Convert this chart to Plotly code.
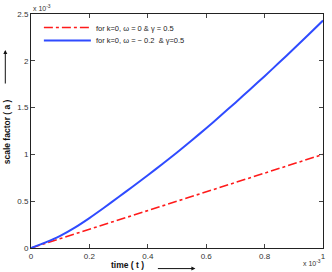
import plotly.graph_objects as go

t = [0.0, 0.05, 0.1, 0.15, 0.2, 0.25, 0.3, 0.35, 0.4, 0.45, 0.5,
     0.55, 0.6, 0.65, 0.7, 0.75, 0.8, 0.85, 0.9, 0.95, 1.0]
a_red = [0.0, 0.05, 0.1, 0.15, 0.2, 0.25, 0.3, 0.35, 0.4, 0.45, 0.5,
         0.55, 0.6, 0.65, 0.7, 0.75, 0.8, 0.85, 0.9, 0.95, 1.0]
a_blue = [0.0, 0.06, 0.13, 0.218, 0.32, 0.43, 0.545, 0.66, 0.777, 0.897, 1.02,
          1.148, 1.28, 1.415, 1.553, 1.693, 1.836, 1.981, 2.128, 2.278, 2.43]
xticks = [0, 0.2, 0.4, 0.6, 0.8, 1]
xticklabels = ["0", "0.2", "0.4", "0.6", "0.8", "1"]
yticks = [0, 0.5, 1, 1.5, 2, 2.5]
yticklabels = ["0", "0.5", "1", "1.5", "2", "2.5"]

FONT = "Liberation Sans, Arial, sans-serif"

fig = go.Figure()
fig.add_trace(go.Scatter(x=t, y=a_red, mode="lines", legend="legend",
                         name="for k=0, \u03c9 = 0 & \u03b3 = 0.5",
                         line=dict(color="#ff1a1a", width=1.6, dash="dashdot")))
fig.add_trace(go.Scatter(x=t, y=a_blue, mode="lines", legend="legend2",
                         name="for k=0, \u03c9 = \u2212 0.2  & \u03b3=0.5",
                         line=dict(color="#2f4bff", width=2, shape="spline", smoothing=0.6)))

axis_common = dict(showline=True, linecolor="#222", linewidth=1, mirror="ticks",
                   ticks="inside", ticklen=4, tickcolor="#444", showgrid=False,
                   zeroline=False, tickfont=dict(size=8, color="#333", family=FONT))
fig.update_xaxes(range=[0, 1], tickvals=xticks, ticktext=xticklabels, **axis_common)
fig.update_yaxes(range=[0, 2.5], tickvals=yticks, ticktext=yticklabels, **axis_common)

leg_common = dict(xanchor="left", yanchor="top", bgcolor="rgba(0,0,0,0)",
                  font=dict(size=7.5, color="#222", family=FONT), itemwidth=47)
fig.update_layout(
    width=332, height=272,
    margin=dict(l=31, r=6, t=14, b=24),
    plot_bgcolor="white", paper_bgcolor="white",
    font=dict(family=FONT, size=8, color="#222"),
    legend=dict(x=0.027, y=1.004, **leg_common),
    legend2=dict(x=0.027, y=0.949, **leg_common),
    showlegend=True,
    annotations=[
        dict(text="x 10<sup>-3</sup>", xref="paper", yref="paper", x=0.0, y=1.0,
             xanchor="left", yanchor="bottom", showarrow=False,
             font=dict(size=7, color="#333")),
        dict(text="x 10<sup>-3</sup>", xref="paper", yref="paper", x=1.0, y=-0.04,
             xanchor="right", yanchor="top", showarrow=False,
             font=dict(size=7, color="#333")),
        dict(text="<b>time ( t )</b>", xref="paper", yref="paper", x=0.329, y=-0.073,
             xanchor="center", yanchor="middle", showarrow=False,
             font=dict(size=8.5, color="#111")),
        dict(text="<b>scale factor ( a )</b>", xref="paper", yref="paper", x=-0.081, y=0.496,
             xanchor="center", yanchor="middle", textangle=-90, showarrow=False,
             font=dict(size=8.5, color="#111")),
        dict(text="", xref="paper", yref="paper", x=0.563, y=-0.088, ax=-39, ay=0,
             showarrow=True, arrowhead=2, arrowsize=0.8, arrowwidth=1, arrowcolor="#111"),
        dict(text="", xref="paper", yref="paper", x=-0.088, y=0.846, ax=0, ay=35,
             showarrow=True, arrowhead=2, arrowsize=0.8, arrowwidth=1, arrowcolor="#111"),
    ],
)

fig.write_html("out.html", config={"displayModeBar": False},
               post_script="document.body.style.margin='0';")
